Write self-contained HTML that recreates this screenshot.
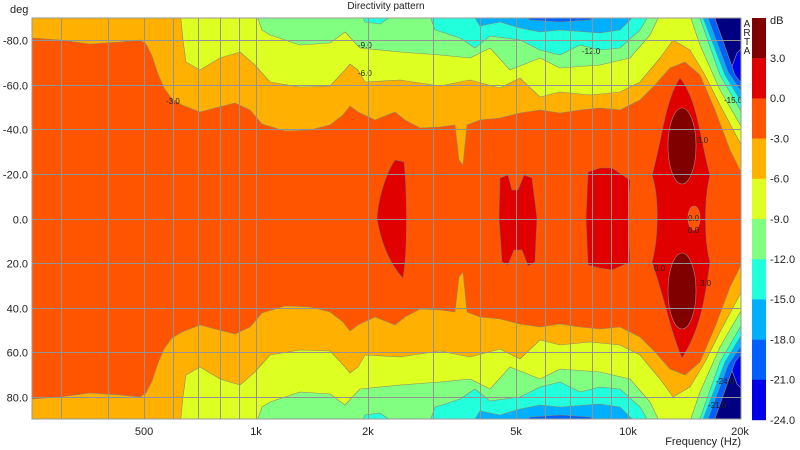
<!DOCTYPE html>
<html><head><meta charset="utf-8"><style>
body{margin:0;background:#fff;}
svg{display:block;font-family:"Liberation Sans",sans-serif;}
</style></head><body>
<svg id="s" width="800" height="450" xmlns="http://www.w3.org/2000/svg">
<defs><clipPath id="c"><rect x="32" y="18" width="709" height="401"/></clipPath></defs>
<g id="plot" clip-path="url(#c)"></g>
<g id="grid" stroke="#939393" stroke-width="1" fill="none"></g>
<rect x="32" y="18" width="709" height="401" fill="none" stroke="#999" stroke-width="1"/>
<g id="labs" font-size="11" fill="#222"></g>
</svg>
<script>
var NS="http://www.w3.org/2000/svg";
function el(p,t,a,txt){var e=document.createElementNS(NS,t);for(var k in a)e.setAttribute(k,a[k]);if(txt!=null)e.textContent=txt;p.appendChild(e);return e;}
var plot=document.getElementById('plot'),grid=document.getElementById('grid'),labs=document.getElementById('labs');
var C={n:'#000080',b3:'#0000e8',b2:'#0060ff',b1:'#00b0ff',cy:'#22ffdd',gr:'#80ff80',ye:'#ddff22',or:'#ffb000',orr:'#ff5500',rd:'#e00000',dr:'#800000'};
el(plot,'rect',{x:0,y:0,width:800,height:450,fill:C.b3});
el(plot,'path',{d:'M705,10 L745,10 L745,45 L737,53 L728,77 L718,50 L710,30 Z',fill:C.n,stroke:'#999','stroke-width':0.6});
el(plot,'path',{d:'M705,427 L745,427 L745,392 L737,384 L728,360 L718,387 L710,407 Z',fill:C.n,stroke:'#999','stroke-width':0.6});
var L=[
[C.b2,[[20,10],[712,10],[735,75],[745,88]]],
[C.b1,[[20,10],[515,10],[530,20],[560,22],[590,20],[610,10],[705,10],[728,72],[745,97]]],
[C.cy,[[20,10],[470,10],[480,26],[500,22],[520,28],[540,32],[560,30],[600,33],[620,30],[640,10],[700,10],[725,75],[745,108]]],
[C.gr,[[20,10],[360,10],[365,22],[380,24],[400,10],[428,10],[435,30],[445,33],[460,38],[475,48],[490,36],[520,40],[540,50],[560,55],[580,45],[600,50],[620,48],[640,30],[652,10],[697,10],[720,75],[745,118]]],
[C.ye,[[20,10],[255,10],[262,30],[270,35],[300,45],[330,43],[345,32],[360,48],[400,52],[440,55],[470,58],[490,48],[510,70],[540,58],[560,68],[600,65],[630,58],[650,35],[662,10],[688,10],[700,45],[720,90],[745,133]]],
[C.or,[[20,10],[180,10],[183,40],[186,62],[200,70],[220,58],[240,52],[255,65],[270,82],[300,87],[330,86],[345,70],[350,64],[358,70],[365,82],[400,80],[440,86],[470,80],[500,88],[520,78],[540,97],[560,92],[590,95],[620,92],[640,82],[660,58],[673,40],[690,50],[705,75],[720,105],[745,152]]],
[C.orr,[[20,38],[32,38],[60,40],[90,44],[120,42],[140,40],[146,44],[152,56],[158,74],[164,88],[172,99],[182,105],[200,112],[215,108],[235,103],[250,110],[262,124],[285,131],[310,130],[330,125],[343,115],[350,106],[358,112],[375,120],[395,112],[405,120],[420,128],[440,127],[455,125],[459,160],[463,165],[467,125],[480,120],[500,118],[520,113],[540,110],[560,113],[580,110],[600,108],[620,110],[640,100],[655,85],[670,68],[685,62],[700,75],[715,110],[730,150],[745,180]]]
];
L.forEach(function(l){
  var pts=l[1],d='M'+pts.map(function(p){return p[0]+','+p[1];}).join(' L');
  for(var i=pts.length-1;i>=0;i--)d+=' L'+pts[i][0]+','+(437-pts[i][1]);
  el(plot,'path',{d:d+'Z',fill:l[0],stroke:'#8a8a6a','stroke-width':0.6,'stroke-linejoin':'round'});
});
var red=[
'M395,160 C385,175 378,200 377,218 C380,240 390,265 403,278 C408,250 407,190 404,162 Z',
'M500,178 L508,175 L512,190 L518,190 L524,175 L532,178 L537,218 L535,262 L528,266 L522,250 L514,250 L508,265 L502,262 L499,218 Z',
'M588,172 L600,168 L612,168 L630,180 L628,218 L630,262 L612,270 L600,268 L588,265 L586,218 Z',
'M680,78 C665,100 662,140 652,175 C660,200 658,240 652,262 C665,300 670,330 682,358 C700,330 705,300 710,262 C704,240 704,200 710,175 C700,140 698,100 680,78 Z'];
red.forEach(function(d){el(plot,'path',{d:d,fill:C.rd,stroke:'#8a6a6a','stroke-width':0.6});});
el(plot,'ellipse',{cx:682,cy:146,rx:14,ry:38,fill:C.dr,stroke:'#a88','stroke-width':0.6});
el(plot,'ellipse',{cx:682,cy:291,rx:14,ry:38,fill:C.dr,stroke:'#a88','stroke-width':0.6});
el(plot,'ellipse',{cx:694,cy:218,rx:6,ry:12,fill:C.orr,stroke:'#a88','stroke-width':0.6});
[['-3.0',166,104],['-9.0',358,48],['-6.0',358,76],['-12.0',582,54],['-15.0',724,103],['3.0',697,143],['0.0',688,221],['0.0',688,233],['0.0',654,271],['3.0',700,286],['-24.0',716,384],['-21.0',708,408]].forEach(function(t){
  el(plot,'text',{x:t[1],y:t[2],'font-size':8,fill:'#222'},t[0]);});
function fx(f){return 256+372*Math.log10(f/1000);}
[300,400,500,600,700,800,900,1000,2000,3000,4000,5000,6000,7000,8000,9000,10000].forEach(function(f){var x=Math.round(fx(f))+0.5;el(grid,'line',{x1:x,y1:18,x2:x,y2:419});});
for(var a=-80;a<=80;a+=20){var y=Math.round(218.5+a*2.228)+0.5;el(grid,'line',{x1:32,y1:y,x2:741,y2:y});
  el(labs,'text',{x:28,y:y+4,'text-anchor':'end'},a.toFixed(1));}
el(labs,'text',{x:10,y:13},'deg');
el(labs,'text',{x:386,y:9,'text-anchor':'middle','font-size':10},'Directivity pattern');
[['500',500],['1k',1000],['2k',2000],['5k',5000],['10k',10000],['20k',20000]].forEach(function(t){el(labs,'text',{x:fx(t[1]),y:435,'text-anchor':'middle'},t[0]);});
el(labs,'text',{x:741,y:445,'text-anchor':'end'},'Frequency (Hz)');
['A','R','T','A'].forEach(function(c,i){el(labs,'text',{x:747,y:27+i*9,'text-anchor':'middle','font-size':10},c);});
var cb=[C.dr,C.rd,C.orr,C.or,C.ye,C.gr,C.cy,C.b1,C.b2,C.b3];
cb.forEach(function(c,i){el(labs,'rect',{x:752,y:18+i*40.2,width:14,height:40.4,fill:c});});
el(labs,'text',{x:770,y:24},'dB');
['3.0','0.0','-3.0','-6.0','-9.0','-12.0','-15.0','-18.0','-21.0','-24.0'].forEach(function(t,i){el(labs,'text',{x:770,y:62+i*40.2},t);});
</script>
</body></html>
